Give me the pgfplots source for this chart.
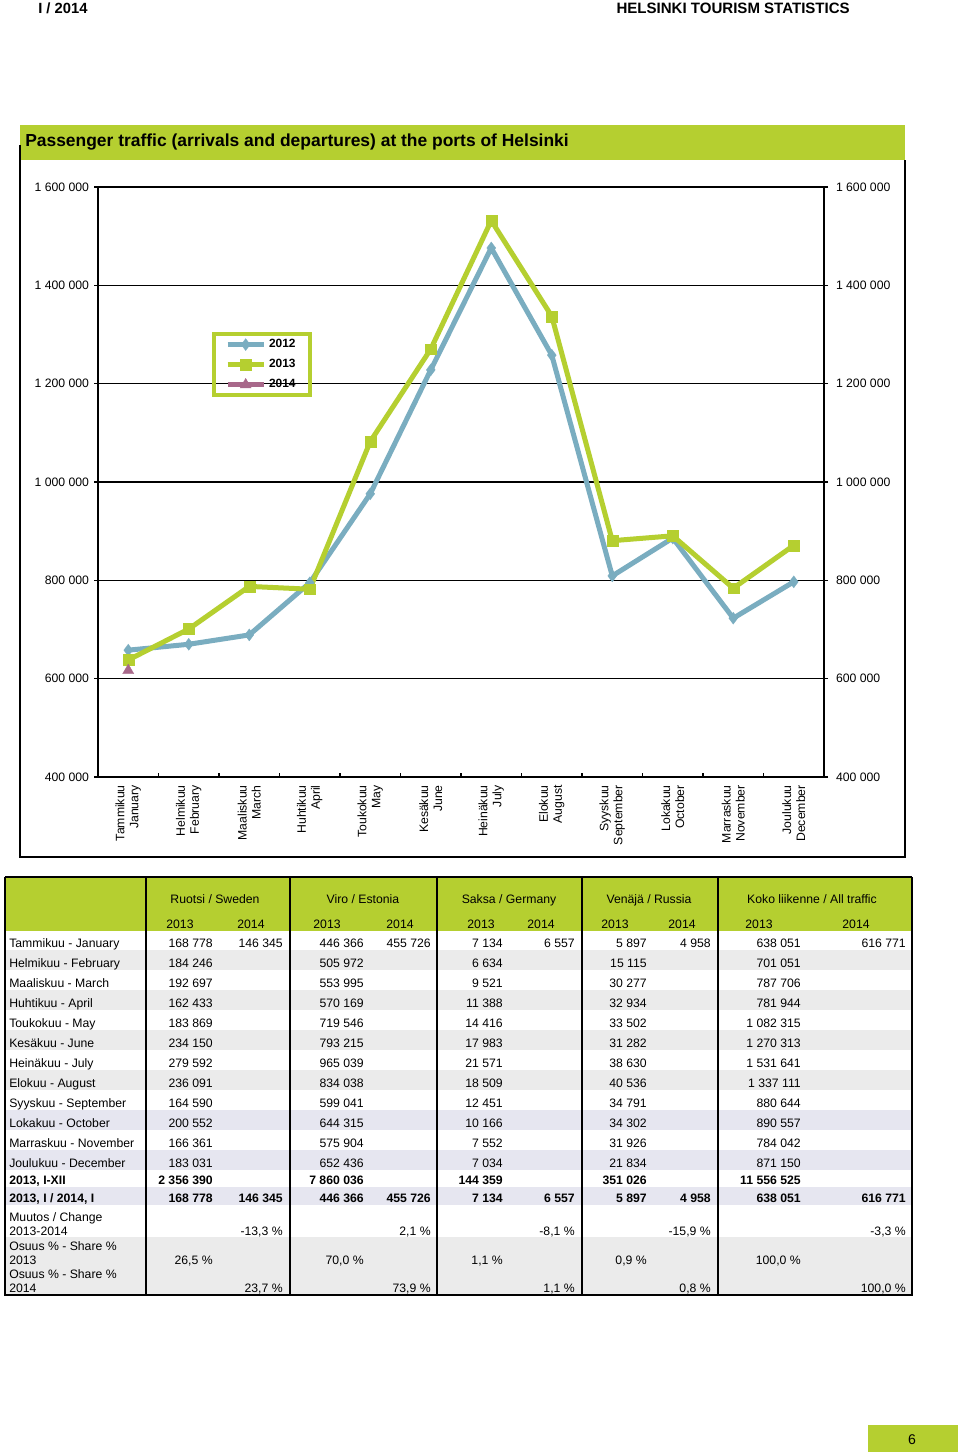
\documentclass[border=0pt]{standalone}
\usepackage{fontspec}
\setmainfont{Liberation Sans}
\usepackage{pgfplots}
\pgfplotsset{compat=1.18}

\definecolor{tgreen}{RGB}{181,207,48}
\definecolor{tblue}{RGB}{122,173,192}
\definecolor{tmauve}{RGB}{168,104,138}
\definecolor{rowgray}{RGB}{235,235,235}
\definecolor{rowlav}{RGB}{230,230,240}

\newcommand{\tf}{\fontsize{8.7}{10}\selectfont}

% monthly totals, passengers
\pgfplotstableread{
m  y2012
1  658000
2  670000
3  689000
4  795000
5  976000
6  1228000
7  1476000
8  1258000
9  809000
10 886000
11 723000
12 797000
}\tabA
\pgfplotstableread{
m  y2013
1  638051
2  701051
3  787706
4  781944
5  1082315
6  1270313
7  1531641
8  1337111
9  880644
10 890557
11 784042
12 871150
}\tabB

\begin{document}
\begin{tikzpicture}
% page, chart frame (1 unit = 1 px of the reference)
\begin{scope}[x=0.25mm,y=-0.25mm]
  \fill[white] (0,0) rectangle (960,1452);
  \node[anchor=base west,inner sep=0,font=\fontsize{10.5}{12}\selectfont\bfseries] at (38,14) {I / 2014};
  \node[anchor=base east,inner sep=0,font=\fontsize{10.7}{12}\selectfont\bfseries] at (850,14) {HELSINKI TOURISM STATISTICS};
  \fill[tgreen] (20,125) rectangle (905,160);
  \draw[line width=0.4mm] (20,145) -- (20,857) -- (905,857) -- (905,160);
  \node[anchor=base west,inner sep=0,font=\fontsize{12.4}{14}\selectfont\bfseries] at (25,147)
    {Passenger traffic (arrivals and departures) at the ports of Helsinki};
\end{scope}

\begin{axis}[
  at={(24.5mm,-194.25mm)}, anchor=south west,
  width=181.5mm, height=147.5mm, scale only axis,
  xmin=0.5, xmax=12.5, ymin=400000, ymax=1600000,
  axis x line*=bottom, axis y line*=left,
  axis line style={line width=0.35mm},
  xtick={1,...,12},
  xticklabels={{Tammikuu\\January},{Helmikuu\\February},{Maaliskuu\\March},
    {Huhtikuu\\April},{Toukokuu\\May},{Kesäkuu\\June},{Heinäkuu\\July},
    {Elokuu\\August},{Syyskuu\\September},{Lokakuu\\October},
    {Marraskuu\\November},{Joulukuu\\December}},
  x tick label style={rotate=90,anchor=east,align=right,font=\tf,inner sep=0.5mm},
  xticklabel shift=1.5mm,
  major x tick style={draw=none},
  minor xtick={1.5,2.5,...,11.5},
  xtick align=inside,
  ytick align=outside,
  major tick length=1mm, minor tick length=1mm,
  ytick={400000,600000,...,1600000},
  ymajorgrids, grid style={black,line width=0.3mm},
  tick style={black,line width=0.3mm},
  yticklabel style={font=\tf},
  scaled y ticks=false,
  /pgf/number format/fixed,
  /pgf/number format/precision=0,
  /pgf/number format/assume math mode=true,
  /pgf/number format/1000 sep={\ },
  legend style={at={(0.157,0.754)},anchor=north west,draw=tgreen,line width=1mm,
    fill=none,font=\fontsize{8.5}{10}\selectfont\bfseries,row sep=1.0mm,
    inner xsep=2.8mm,inner ysep=0.6mm},
  legend cell align=left,
  legend image code/.code={\draw[mark repeat=2,mark phase=2,#1]
    plot coordinates {(0cm,0cm) (0.45cm,0cm) (0.9cm,0cm)};},
]
\addplot[tblue,line width=1.25mm,mark=diamond*,mark size=1.5mm,
  mark options={solid,line width=0.2pt,fill=tblue}] table[x=m,y=y2012] {\tabA};
\addlegendentry{2012}
\addplot[tgreen,line width=1.25mm,mark=square*,mark size=1.35mm,
  mark options={solid,line width=0.2pt,fill=tgreen}] table[x=m,y=y2013] {\tabB};
\addlegendentry{2013}
\addplot[tmauve,line width=1.25mm,mark=triangle*,mark size=1.6mm,
  mark options={solid,line width=0.2pt,fill=tmauve}] coordinates {(1,616771)};
\addlegendentry{2014}
\end{axis}

\begin{axis}[
  at={(24.5mm,-194.25mm)}, anchor=south west,
  width=181.5mm, height=147.5mm, scale only axis,
  xmin=0.5, xmax=12.5, ymin=400000, ymax=1600000,
  axis x line=none, axis y line*=right,
  axis line style={line width=0.35mm},
  ytick={400000,600000,...,1600000},
  ytick align=outside, major tick length=1mm,
  tick style={black,line width=0.3mm},
  yticklabel style={font=\tf},
  yticklabel shift=0.75mm,
  scaled y ticks=false,
  /pgf/number format/fixed,
  /pgf/number format/precision=0,
  /pgf/number format/assume math mode=true,
  /pgf/number format/1000 sep={\ },
]
\end{axis}

% table below the chart
\begin{scope}[x=0.25mm,y=-0.25mm,font=\tf]
  \fill[tgreen] (5,877) rectangle (912,931);
  \foreach \a in {950,990,1030,1070} {\fill[rowgray] (5,\a) rectangle (912,\a+20);}
  \foreach \a in {1110,1150} {\fill[rowlav] (5,\a) rectangle (912,\a+20);}
  \fill[rowlav] (5,1187) rectangle (912,1205);
  \fill[rowgray] (5,1237) rectangle (912,1295);
  \draw[line width=0.35mm] (5,877) -- (912,877);
  \foreach \a in {146,290,437,582,718} {\draw[line width=0.35mm] (\a,877) -- (\a,1295);}
  \draw[line width=0.35mm] (5,877) -- (5,1295);
  \draw[line width=0.35mm] (912,877) -- (912,1295);
  \draw[line width=0.7mm] (4,1295) -- (913,1295);

  % header
  \foreach \xx/\t in {215/{Ruotsi / Sweden},363/{Viro / Estonia},509/{Saksa / Germany},649/{Venäjä / Russia},812/{Koko liikenne / All traffic}}
    {\node[anchor=base,inner sep=0] at (\xx,903.5) {\t};}
  \foreach \xx/\t in {180/2013,251/2014,327/2013,400/2014,481/2013,541/2014,615/2013,682/2014,759/2013,856/2014}
    {\node[anchor=base,inner sep=0] at (\xx,928.5) {\t};}

  % January, both years
  \node[anchor=base west,inner sep=0] at (9,947.5) {Tammikuu - January};
  \foreach \xx/\t in {213/168 778,283/146 345,364/446 366,431/455 726,503/7 134,575/6 557,647/5 897,711/4 958,801/638 051,906/616 771}
    {\node[anchor=base east,inner sep=0] at (\xx,947.5) {\t};}

  % February - December, 2013 only
  \foreach \yy/\lab/\sa/\ea/\ga/\ra/\aa in {
    967.5/Helmikuu - February/184 246/505 972/6 634/15 115/701 051,
    987.5/Maaliskuu - March/192 697/553 995/9 521/30 277/787 706,
    1007.5/Huhtikuu - April/162 433/570 169/11 388/32 934/781 944,
    1027.5/Toukokuu - May/183 869/719 546/14 416/33 502/1 082 315,
    1047.5/Kesäkuu - June/234 150/793 215/17 983/31 282/1 270 313,
    1067.5/Heinäkuu - July/279 592/965 039/21 571/38 630/1 531 641,
    1087.5/Elokuu - August/236 091/834 038/18 509/40 536/1 337 111,
    1107.5/Syyskuu - September/164 590/599 041/12 451/34 791/880 644,
    1127.5/Lokakuu - October/200 552/644 315/10 166/34 302/890 557,
    1147.5/Marraskuu - November/166 361/575 904/7 552/31 926/784 042,
    1167.5/Joulukuu - December/183 031/652 436/7 034/21 834/871 150}
  {
    \node[anchor=base west,inner sep=0] at (9,\yy) {\lab};
    \node[anchor=base east,inner sep=0] at (213,\yy) {\sa};
    \node[anchor=base east,inner sep=0] at (364,\yy) {\ea};
    \node[anchor=base east,inner sep=0] at (503,\yy) {\ga};
    \node[anchor=base east,inner sep=0] at (647,\yy) {\ra};
    \node[anchor=base east,inner sep=0] at (801,\yy) {\aa};
  }

  % totals
  \begin{scope}[font=\tf\bfseries]
  \node[anchor=base west,inner sep=0] at (9,1184.5) {2013, I-XII};
  \foreach \xx/\t in {213/2 356 390,364/7 860 036,503/144 359,647/351 026,801/11 556 525}
    {\node[anchor=base east,inner sep=0] at (\xx,1184.5) {\t};}
  \node[anchor=base west,inner sep=0] at (9,1202.5) {2013, I / 2014, I};
  \foreach \xx/\t in {213/168 778,283/146 345,364/446 366,431/455 726,503/7 134,575/6 557,647/5 897,711/4 958,801/638 051,906/616 771}
    {\node[anchor=base east,inner sep=0] at (\xx,1202.5) {\t};}
  \end{scope}

  % change and shares
  \node[anchor=base west,inner sep=0] at (9,1221.5) {Muutos / Change};
  \node[anchor=base west,inner sep=0] at (9,1235.5) {2013-2014};
  \foreach \xx/\t in {283/{-13,3 \%},431/{2,1 \%},575/{-8,1 \%},711/{-15,9 \%},906/{-3,3 \%}}
    {\node[anchor=base east,inner sep=0] at (\xx,1235.5) {\t};}
  \node[anchor=base west,inner sep=0] at (9,1250.5) {Osuus \% - Share \%};
  \node[anchor=base west,inner sep=0] at (9,1264.5) {2013};
  \foreach \xx/\t in {213/{26,5 \%},364/{70,0 \%},503/{1,1 \%},647/{0,9 \%},801/{100,0 \%}}
    {\node[anchor=base east,inner sep=0] at (\xx,1264.5) {\t};}
  \node[anchor=base west,inner sep=0] at (9,1278.5) {Osuus \% - Share \%};
  \node[anchor=base west,inner sep=0] at (9,1292.5) {2014};
  \foreach \xx/\t in {283/{23,7 \%},431/{73,9 \%},575/{1,1 \%},711/{0,8 \%},906/{100,0 \%}}
    {\node[anchor=base east,inner sep=0] at (\xx,1292.5) {\t};}

  % page number
  \fill[tgreen] (868,1425) rectangle (958,1452);
  \node[inner sep=0,font=\fontsize{10}{12}\selectfont] at (912,1440) {6};
\end{scope}
\end{tikzpicture}
\end{document}
